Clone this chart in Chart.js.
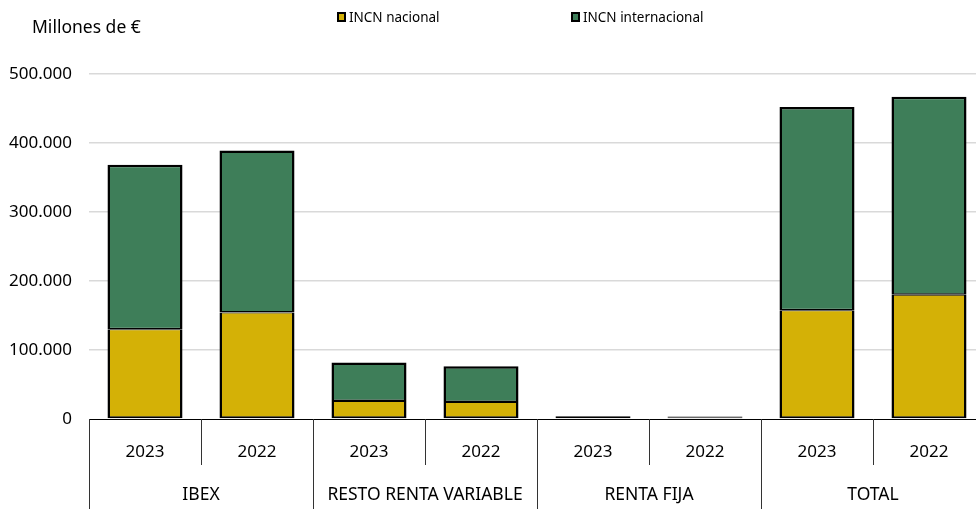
<!DOCTYPE html>
<html lang="es">
<head>
  <meta charset="UTF-8">
  <title>INCN nacional e internacional</title>
  <script src="https://cdn.jsdelivr.net/npm/chart.js"></script>
  <style>
    body { margin: 0; background: #fff; overflow: hidden; font-family: "Noto Sans", sans-serif; }
    .wrap { position: relative; width: 976px; height: 509px; overflow: hidden; }
    canvas { position: absolute; left: 0; top: 0; }
    .unit { position: absolute; left: 32px; top: 14px; font-size: 17.5px; color: #000; }
    .leg { position: absolute; top: 8px; font-size: 13.5px; color: #000; display: flex; align-items: center; }
    .leg span.box { display: inline-block; width: 9px; height: 10px; box-sizing: border-box; border: 2px solid #000; margin-right: 3px; }
  </style>
</head>
<body>
  <div class="wrap">
    <canvas id="incnChart" width="990" height="509"></canvas>
    <div class="unit">Millones de €</div>
    <div class="leg" style="left:337px"><span class="box" style="background:#d4b106"></span>INCN nacional</div>
    <div class="leg" style="left:571px"><span class="box" style="background:#3e7e59"></span>INCN internacional</div>
  </div>
  <script>
    // datos (millones de euros)
    const years = ['2023', '2022', '2023', '2022', '2023', '2022', '2023', '2022'];
    const groups = ['IBEX', 'RESTO RENTA VARIABLE', 'RENTA FIJA', 'TOTAL'];
    const nacional = [130000, 154500, 26000, 24500, 3000, 2700, 157500, 180000];
    const internacional = [238500, 234500, 56000, 52000, 1000, 900, 294500, 287000];
    const yTicks = [0, 100000, 200000, 300000, 400000, 500000];

    const fmt = (v) => String(v).replace(/\B(?=(\d{3})+(?!\d))/g, '.');

    // separadores y etiquetas de grupo bajo el eje x
    const groupAxis = {
      id: 'groupAxis',
      afterDraw(chart) {
        const x = chart.scales.x;
        const ctx = chart.ctx;
        const step = (x.right - x.left) / years.length;
        const base = chart.chartArea.bottom;
        ctx.save();
        ctx.strokeStyle = '#333';
        ctx.lineWidth = 1;
        for (let i = 0; i <= years.length; i++) {
          const px = Math.round(x.left + i * step) + 0.5;
          ctx.beginPath();
          ctx.moveTo(px, base);
          ctx.lineTo(px, i % 2 === 0 ? chart.height : base + 46);
          ctx.stroke();
        }
        ctx.fillStyle = '#000';
        ctx.font = '17.5px "Noto Sans"';
        ctx.textAlign = 'center';
        ctx.textBaseline = 'middle';
        groups.forEach((g, i) => {
          ctx.fillText(g, x.left + (i * 2 + 1) * step, base + 76);
        });
        ctx.restore();
      }
    };

    const ctx = document.getElementById('incnChart').getContext('2d');
    const incnChart = new Chart(ctx, {
      type: 'bar',
      data: {
        labels: years,
        datasets: [
          {
            label: 'INCN nacional',
            data: nacional,
            backgroundColor: '#d4b106',
            borderColor: '#000',
            borderWidth: { top: 1, left: 2.5, right: 2.5, bottom: 2 },
            borderSkipped: false,
            inflateAmount: 0,
          },
          {
            label: 'INCN internacional',
            data: internacional,
            backgroundColor: '#3e7e59',
            borderColor: '#000',
            borderWidth: { top: 2.5, left: 2.5, right: 2.5, bottom: 1.5 },
            borderSkipped: false,
            inflateAmount: 0,
          }
        ]
      },
      options: {
        responsive: false,
        animation: false,
        layout: { padding: { top: 74, right: 5, left: 0, bottom: 0 } },
        datasets: { bar: { categoryPercentage: 1, barPercentage: 0.67 } },
        plugins: { legend: { display: false }, tooltip: { enabled: false } },
        scales: {
          x: {
            stacked: true,
            grid: { display: false },
            border: { display: true, color: '#000', width: 1 },
            ticks: { color: '#000', font: { family: 'Noto Sans', size: 17 }, padding: 15, maxRotation: 0 },
            afterFit: (s) => { s.height = 90; }
          },
          y: {
            stacked: true,
            min: 0,
            max: 500000,
            afterBuildTicks: (s) => { s.ticks = yTicks.map((v) => ({ value: v })); },
            grid: {
              drawTicks: false,
              color: (c) => (c.tick && c.tick.value === 0 ? 'rgba(0,0,0,0)' : '#d9d9d9'),
              lineWidth: 1.5
            },
            border: { display: false },
            ticks: { color: '#000', font: { family: 'Noto Sans', size: 17 }, padding: 17, callback: (v) => fmt(v) },
            afterFit: (s) => { s.width = 89; }
          }
        }
      },
      plugins: [groupAxis]
    });
  </script>
</body>
</html>
